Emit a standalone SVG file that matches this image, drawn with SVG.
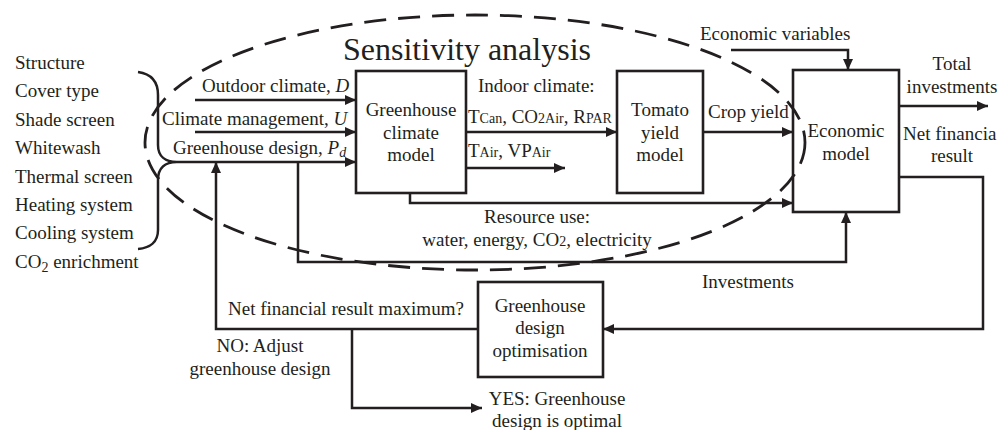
<svg xmlns="http://www.w3.org/2000/svg" width="997" height="430" viewBox="0 0 997 430">
<style>
text{font-family:"Liberation Serif","Times New Roman",serif;font-size:19px;fill:#231f20}
.c{text-anchor:middle}
.box{fill:none;stroke:#231f20;stroke-width:2.6}
.ln{fill:none;stroke:#231f20;stroke-width:2.5}
.arr{marker-end:url(#ah)}
.sm{font-size:14px}
</style>
<defs>
<marker id="ah" markerUnits="userSpaceOnUse" markerWidth="11" markerHeight="10" refX="11" refY="5" orient="auto">
<path d="M0,0 L11,5 L0,10 z" fill="#231f20"/>
</marker>
</defs>
<rect width="997" height="430" fill="#fff"/>

<g id="sensitivity">
<ellipse cx="475" cy="142.5" rx="330" ry="127.5" fill="none" stroke="#231f20" stroke-width="2.8" stroke-dasharray="22 12"/>
<text x="343" y="60" style="font-size:32px">Sensitivity analysis</text>
</g>

<g id="design-options">
<text x="15" y="69">Structure</text>
<text x="15" y="97">Cover type</text>
<text x="15" y="126">Shade screen</text>
<text x="15" y="154">Whitewash</text>
<text x="15" y="183">Thermal screen</text>
<text x="15" y="211">Heating system</text>
<text x="15" y="239">Cooling system</text>
<text x="15" y="268">CO<tspan class="sm" dy="4">2</tspan><tspan dy="-4"> enrichment</tspan></text>
<path class="ln" d="M138,72 C152,74 158,82 158,95 L158,145 C158,156 165,162 177,162 M177,162 C165,162 158,168 158,180 L158,230 C158,242 150,248 138,249"/>
</g>

<g id="greenhouse-climate-model">
<rect class="box" x="356" y="71" width="110" height="122"/>
<text class="c" x="411" y="116">Greenhouse</text>
<text class="c" x="411" y="139">climate</text>
<text class="c" x="411" y="161">model</text>
</g>

<g id="tomato-yield-model">
<rect class="box" x="617" y="71" width="86" height="122"/>
<text class="c" x="660" y="116">Tomato</text>
<text class="c" x="660" y="139">yield</text>
<text class="c" x="660" y="161">model</text>
</g>

<g id="economic-model">
<rect class="box" x="793" y="70" width="106" height="142"/>
<text class="c" x="846" y="137">Economic</text>
<text class="c" x="846" y="160">model</text>
</g>

<g id="design-optimisation">
<rect class="box" x="478" y="282" width="125" height="95"/>
<text class="c" x="540" y="312">Greenhouse</text>
<text class="c" x="540" y="334">design</text>
<text class="c" x="540" y="357">optimisation</text>
</g>

<g id="connectors">
<path class="ln arr" d="M195,100 H356"/>
<path class="ln arr" d="M195,132 H356"/>
<path class="ln arr" d="M177,162 H356"/>
<path class="ln arr" d="M466,132 H617"/>
<path class="ln arr" d="M466,168 H565"/>
<path class="ln arr" d="M703,132 H793"/>
<path class="ln arr" d="M731,50 H848 V70"/>
<path class="ln arr" d="M899,106 H988"/>
<path class="ln arr" d="M899,177 H983 V329 H603"/>
<path class="ln arr" d="M410,193 V203 H793"/>
<path class="ln arr" d="M298,162 V262 H846 V212"/>
<path class="ln arr" d="M478,329 H216 V162"/>
<path class="ln arr" d="M352,329 V408 H482"/>
</g>

<g id="labels">
<text x="202" y="92">Outdoor climate, <tspan font-style="italic">D</tspan></text>
<text x="162" y="125">Climate management, <tspan font-style="italic">U</tspan></text>
<text x="173" y="154">Greenhouse design, <tspan font-style="italic">P</tspan><tspan font-style="italic" class="sm" dy="3">d</tspan></text>
<text x="478" y="92">Indoor climate:</text>
<text x="468" y="123">T<tspan class="sm">Can</tspan>, CO<tspan class="sm">2Air</tspan>, R<tspan class="sm">PAR</tspan></text>
<text x="468" y="157">T<tspan class="sm">Air</tspan>, VP<tspan class="sm">Air</tspan></text>
<text x="708" y="118">Crop yield</text>
<text x="700" y="40">Economic variables</text>
<text class="c" x="952" y="70">Total</text>
<text class="c" x="952" y="93">investments</text>
<text x="903" y="140">Net financia</text>
<text class="c" x="952" y="162">result</text>
<text class="c" x="537" y="223">Resource use:</text>
<text class="c" x="537" y="246">water, energy, CO<tspan class="sm">2</tspan>, electricity</text>
<text x="702" y="288">Investments</text>
<text x="228" y="315">Net financial result maximum?</text>
<text class="c" x="260" y="352">NO: Adjust</text>
<text class="c" x="260" y="375">greenhouse design</text>
<text class="c" x="557" y="405">YES: Greenhouse</text>
<text class="c" x="557" y="427">design is optimal</text>
</g>
</svg>
